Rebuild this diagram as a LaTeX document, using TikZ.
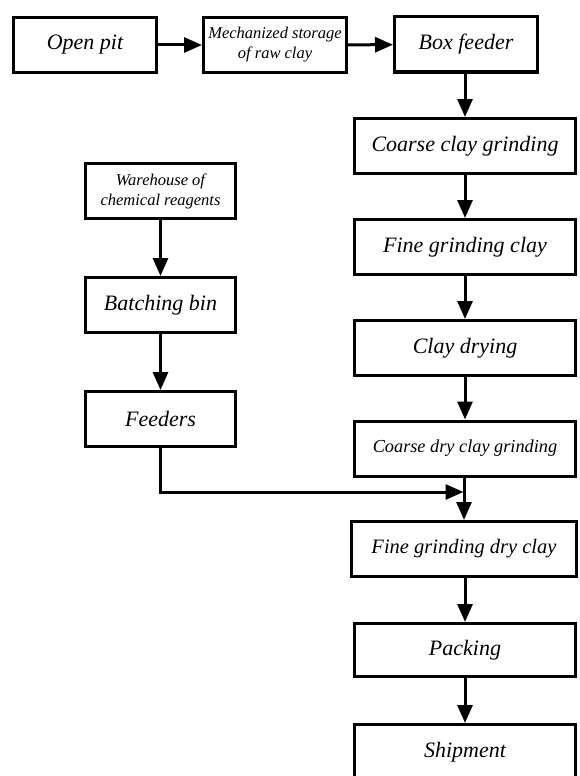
\documentclass[tikz,border=0pt]{standalone}
\usepackage{fontspec}
\setmainfont{Liberation Serif}
\usetikzlibrary{arrows.meta,positioning}

\begin{document}
\begin{tikzpicture}[x=1pt,y=-1pt,line width=3pt,
    >={Triangle[length=18pt,width=15pt]},
    stage/.style={draw,rectangle,align=center,inner sep=2pt,
      font=\itshape\fontsize{22}{26}\selectfont},
    topbox/.style={stage,minimum width=143pt,minimum height=55pt},
    mainbox/.style={stage,minimum width=221pt,minimum height=55pt},
    sidebox/.style={stage,minimum width=150pt,minimum height=55pt},
    small/.style={font=\itshape\fontsize{16.5}{20}\selectfont},
    medium/.style={font=\itshape\fontsize{18.3}{22}\selectfont}]
  \useasboundingbox (0,0) rectangle (579,776);

  % Top row
  \node[topbox] (pit) at (85,45) {Open pit};
  \node[topbox,small] (storage) at (275,45) {Mechanized storage\\of raw clay};
  \node[topbox] (boxfeed) at (466,44.5) {Box feeder};

  % Main clay line
  \node[mainbox] (coarse) at (465,146) {Coarse clay grinding};
  \node[mainbox] (fine) at (465,247) {Fine grinding clay};
  \node[mainbox] (drying) at (465,348) {Clay drying};
  \node[mainbox,medium] (coarsedry) at (465,448.5) {Coarse dry clay grinding};
  \node[mainbox,minimum width=225pt,font=\itshape\fontsize{20.5}{24}\selectfont] (finedry) at (464,549) {Fine grinding dry clay};
  \node[mainbox,minimum height=53pt] (packing) at (465,650) {Packing};
  \node[mainbox] (shipment) at (465,752) {Shipment};

  % Reagent line
  \node[sidebox,small] (warehouse) at (160.5,191) {Warehouse of\\chemical reagents};
  \node[sidebox] (batching) at (160.5,305) {Batching bin};
  \node[sidebox] (feeders) at (160.5,419) {Feeders};
  \coordinate (join) at (463.5,492);

  % Flow
  \draw[->] (pit) -- (storage);
  \draw[->] (storage) -- (boxfeed);
  \draw[->] (boxfeed.south -| coarse.north) -- (coarse.north);
  \draw[->] (coarse) -- (fine);
  \draw[->] (fine) -- (drying);
  \draw[->] (drying) -- (coarsedry);
  \draw[->] (coarsedry.south -| finedry.north) -- (finedry.north);
  \draw[->] (finedry.south -| packing.north) -- (packing.north);
  \draw[->] (packing) -- (shipment);
  \draw[->] (warehouse) -- (batching);
  \draw[->] (batching) -- (feeders);
  \draw[->] (feeders.south) |- (join);
\end{tikzpicture}
\end{document}
